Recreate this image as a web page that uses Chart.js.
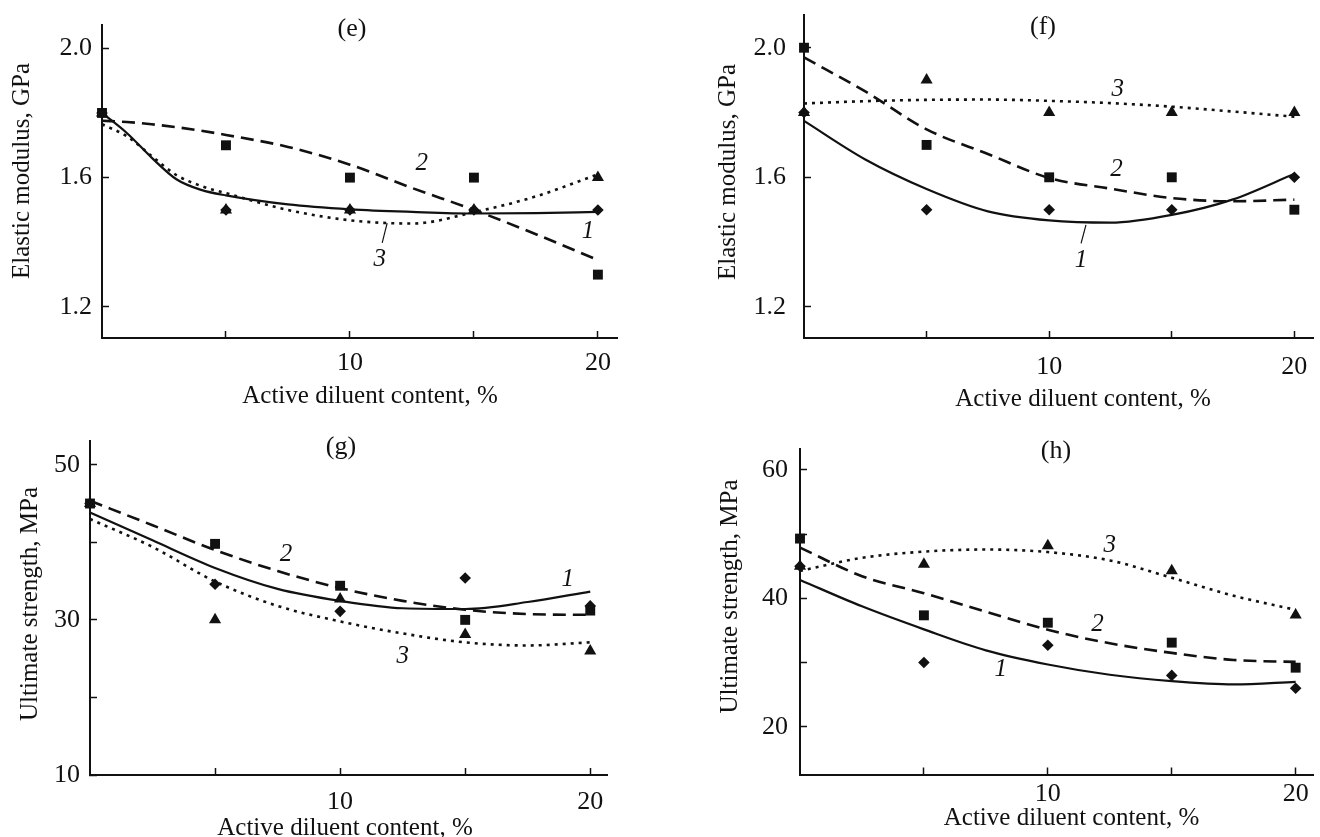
<!DOCTYPE html>
<html>
<head>
<meta charset="utf-8">
<script src="https://cdn.jsdelivr.net/npm/chart.js@4.4.1/dist/chart.umd.min.js"></script>
<style>
  body { margin: 0; background: #fff; }
  #wrap { position: relative; width: 1320px; height: 837px; }
  canvas { position: absolute; }
</style>
</head>
<body>
<div id="wrap">
  <canvas id="chartE" width="660" height="420" style="left:0;top:0"></canvas>
  <canvas id="chartF" width="660" height="420" style="left:660px;top:0"></canvas>
  <canvas id="chartG" width="660" height="417" style="left:0;top:420px"></canvas>
  <canvas id="chartH" width="660" height="417" style="left:660px;top:420px"></canvas>
</div>
<script>
const FONT = '"Liberation Serif", "Times New Roman", serif';
const INK = '#111';

// diluent content (%) of the measured samples and of the fitted curves
const pointX = [0, 5, 10, 15, 20];
const curveX = [0, 2.5, 5, 7.5, 10, 12.5, 15, 17.5, 20];
const curveXe = [0, 1, 2, 3, 4, 5, 7.5, 10, 12.5, 15, 17.5, 20];

const xTicks = [5, 10, 15, 20];
const xTickLabels = ['', '10', '', '20'];

const modTicks = [1.2, 1.6, 2.0];
const modTickLabels = ['1.2', '1.6', '2.0'];
const gTicks = [10, 20, 30, 40, 50];
const gTickLabels = ['10', '', '30', '', '50'];
const hTicks = [20, 30, 40, 50, 60];
const hTickLabels = ['20', '', '40', '', '60'];

// (e) elastic modulus, GPa
const eDiamond = [1.8, 1.5, 1.5, 1.5, 1.5];
const eSquare = [1.8, 1.7, 1.6, 1.6, 1.3];
const eTriangle = [1.8, 1.5, 1.5, 1.5, 1.6];
const eCurve1 = [1.80, 1.738, 1.662, 1.595, 1.562, 1.545, 1.517, 1.502, 1.494, 1.489, 1.49, 1.494];
const eCurve2 = [1.776, 1.772, 1.765, 1.756, 1.745, 1.732, 1.695, 1.64, 1.568, 1.50, 1.425, 1.345];
const eCurve3 = [1.765, 1.728, 1.667, 1.608, 1.574, 1.552, 1.50, 1.468, 1.458, 1.493, 1.542, 1.61];

// (f) elastic modulus, GPa
const fDiamond = [1.8, 1.5, 1.5, 1.5, 1.6];
const fSquare = [2.0, 1.7, 1.6, 1.6, 1.5];
const fTriangle = [1.8, 1.9, 1.8, 1.8, 1.8];
const fCurve1 = [1.774, 1.655, 1.564, 1.495, 1.467, 1.46, 1.484, 1.532, 1.611];
const fCurve2 = [1.97, 1.865, 1.748, 1.672, 1.598, 1.565, 1.536, 1.526, 1.531];
const fCurve3 = [1.828, 1.835, 1.839, 1.84, 1.836, 1.829, 1.818, 1.803, 1.787];

// (g) ultimate strength, MPa
const gDiamond = [45, 34.6, 31.1, 35.4, 31.8];
const gSquare = [45, 39.8, 34.4, 30, 31.2];
const gTriangle = [45, 30, 32.7, 28.1, 26.0];
const gCurve1 = [43.85, 40.25, 36.7, 34.0, 32.45, 31.5, 31.4, 32.3, 33.65];
const gCurve2 = [45.35, 42.2, 39.0, 36.3, 34.1, 32.45, 31.3, 30.75, 30.65];
const gCurve3 = [43.0, 39.4, 34.95, 31.8, 29.8, 28.25, 27.1, 26.7, 27.1];

// (h) ultimate strength, MPa
const hDiamond = [45, 30, 32.7, 28.0, 26.0];
const hSquare = [49.3, 37.35, 36.2, 33.1, 29.2];
const hTriangle = [45, 45.3, 48.2, 44.3, 37.4];
const hCurve1 = [42.86, 38.75, 35.17, 31.9, 29.7, 28.1, 27.1, 26.6, 27.0];
const hCurve2 = [47.9, 43.45, 40.8, 37.9, 35.1, 33.0, 31.5, 30.4, 30.1];
const hCurve3 = [44.26, 46.3, 47.27, 47.6, 47.2, 45.9, 43.2, 40.4, 38.2];

// curve numbers, placed in data units
const eNotes = [['2', 12.9, 1.645], ['1', 19.6, 1.433], ['3', 11.2, 1.348]];
const fNotes = [['3', 12.8, 1.872], ['2', 12.75, 1.624], ['1', 11.3, 1.345]];
const gNotes = [['2', 7.84, 38.4], ['1', 19.1, 35.2], ['3', 12.5, 25.3]];
const hNotes = [['3', 12.5, 48.2], ['2', 12.0, 35.9], ['1', 8.1, 28.9]];

// leader strokes from a number to its curve
const eLeader = [[11.5, 1.459], [11.3, 1.398]];
const fLeader = [[11.5, 1.453], [11.3, 1.396]];

const X_TITLE = 'Active diluent content, %';

function pairs(xs, ys) {
  return xs.map((v, i) => ({ x: v, y: ys[i] }));
}

// panel letter, axis titles and curve numbers
const textPlugin = {
  id: 'texts',
  afterDatasetsDraw(chart, args, o) {
    const { ctx, scales } = chart;
    ctx.save();
    ctx.fillStyle = INK;
    ctx.textAlign = 'center';
    ctx.textBaseline = 'middle';

    ctx.font = 'italic 25px ' + FONT;
    (o.notes || []).forEach(([text, x, y]) => {
      ctx.fillText(text, scales.x.getPixelForValue(x), scales.y.getPixelForValue(y));
    });

    ctx.font = '26px ' + FONT;
    ctx.fillText(o.title, o.titleAt[0], o.titleAt[1]);

    ctx.font = '25px ' + FONT;
    ctx.fillText(X_TITLE, o.xTitleAt[0], o.xTitleAt[1]);

    ctx.translate(o.yTitleAt[0], o.yTitleAt[1]);
    ctx.rotate(-Math.PI / 2);
    ctx.fillText(o.yTitle, 0, 0);
    ctx.restore();
  }
};

function curve(xs, ys, dash, width) {
  return {
    data: pairs(xs, ys), showLine: true, borderColor: INK, borderWidth: width,
    borderDash: dash, pointRadius: 0, cubicInterpolationMode: 'monotone', clip: false
  };
}

function markers(ys, style, radius) {
  return {
    data: pairs(pointX, ys), showLine: false, pointStyle: style, pointRadius: radius,
    backgroundColor: INK, borderColor: INK, borderWidth: 0, clip: false
  };
}

// keep the axis boxes at a fixed size, no extra room for the end labels
function fixBox(s, size) {
  if (s.isHorizontal()) s.height = size; else s.width = size;
  s.paddingTop = 0;
  s.paddingBottom = 0;
  s.paddingLeft = 0;
  s.paddingRight = 0;
}

function makePanel(id, p) {
  const datasets = [
    curve(p.cx, p.c1, [], 2.2),
    curve(p.cx, p.c2, [13, 7], 2.6),
    curve(p.cx, p.c3, [3, 5], 2.6)
  ];
  if (p.leader) {
    datasets.push({
      data: p.leader.map(([x, y]) => ({ x, y })), showLine: true,
      borderColor: INK, borderWidth: 1.2, pointRadius: 0, clip: false
    });
  }
  datasets.push(markers(p.diamond, 'rectRot', 5.8));
  datasets.push(markers(p.square, 'rect', 7));
  datasets.push(markers(p.triangle, 'triangle', 7));

  const tickFont = { family: FONT, size: 26 };

  return new Chart(document.getElementById(id), {
    type: 'scatter',
    data: { datasets },
    plugins: [textPlugin],
    options: {
      responsive: false,
      animation: false,
      events: [],
      layout: { padding: { left: 0, top: p.top, right: p.right, bottom: 0 } },
      plugins: {
        legend: { display: false },
        tooltip: { enabled: false },
        texts: {
          notes: p.notes, title: p.title, titleAt: p.titleAt,
          xTitleAt: p.xTitleAt, yTitle: p.yTitle, yTitleAt: p.yTitleAt
        }
      },
      scales: {
        x: {
          type: 'linear', min: 0, max: p.xMax,
          afterBuildTicks: (s) => { s.ticks = xTicks.map(v => ({ value: v })); },
          afterFit: (s) => fixBox(s, p.xh),
          ticks: {
            callback: (v, i) => xTickLabels[i], autoSkip: false, maxRotation: 0,
            font: tickFont, color: INK, padding: p.xPad
          },
          grid: { drawOnChartArea: false, tickLength: -7, tickColor: INK, tickWidth: 1.5 },
          border: { display: true, color: INK, width: 2 }
        },
        y: {
          type: 'linear', min: p.yMin, max: p.yMax,
          afterBuildTicks: (s) => { s.ticks = p.yTicks.map(v => ({ value: v })); },
          afterFit: (s) => fixBox(s, p.yw),
          ticks: {
            callback: (v, i) => p.yLabels[i], autoSkip: false,
            font: tickFont, color: INK, padding: p.yPad
          },
          grid: { drawOnChartArea: false, tickLength: -7, tickColor: INK, tickWidth: 1.5 },
          border: { display: true, color: INK, width: 2 }
        }
      }
    }
  });
}

makePanel('chartE', {
  cx: curveXe, c1: eCurve1, c2: eCurve2, c3: eCurve3,
  diamond: eDiamond, square: eSquare, triangle: eTriangle,
  notes: eNotes, leader: eLeader,
  yTicks: modTicks, yLabels: modTickLabels,
  title: '(e)', yTitle: 'Elastic modulus, GPa',
  titleAt: [352, 29], xTitleAt: [370, 396], yTitleAt: [22.5, 171],
  top: 25, right: 43, yw: 102, xh: 82, xMax: 20.77, yMin: 1.104, yMax: 2.072,
  yPad: 17, xPad: 17
});

makePanel('chartF', {
  cx: curveX, c1: fCurve1, c2: fCurve2, c3: fCurve3,
  diamond: fDiamond, square: fSquare, triangle: fTriangle,
  notes: fNotes, leader: fLeader,
  yTicks: modTicks, yLabels: modTickLabels,
  title: '(f)', yTitle: 'Elastic modulus, GPa',
  titleAt: [383, 27.5], xTitleAt: [423, 399], yTitleAt: [68.5, 172],
  top: 15, right: 0, yw: 144, xh: 82, xMax: 20.76, yMin: 1.104, yMax: 2.101,
  yPad: 25, xPad: 21
});

makePanel('chartG', {
  cx: curveX, c1: gCurve1, c2: gCurve2, c3: gCurve3,
  diamond: gDiamond, square: gSquare, triangle: gTriangle,
  notes: gNotes,
  yTicks: gTicks, yLabels: gTickLabels,
  title: '(g)', yTitle: 'Ultimate strength, MPa',
  titleAt: [341, 27.5], xTitleAt: [345, 408], yTitleAt: [30, 184],
  top: 20.7, right: 53, yw: 90, xh: 62, xMax: 20.67, yMin: 10, yMax: 53.1,
  yPad: 17, xPad: 19
});

makePanel('chartH', {
  cx: curveX, c1: hCurve1, c2: hCurve2, c3: hCurve3,
  diamond: hDiamond, square: hSquare, triangle: hTriangle,
  notes: hNotes,
  yTicks: hTicks, yLabels: hTickLabels,
  title: '(h)', yTitle: 'Ultimate strength, MPa',
  titleAt: [396, 31], xTitleAt: [411.5, 398], yTitleAt: [70, 176.5],
  top: 29.3, right: 0, yw: 140, xh: 62.5, xMax: 20.7, yMin: 12.57, yMax: 63.2,
  yPad: 19, xPad: 11
});
</script>
</body>
</html>
